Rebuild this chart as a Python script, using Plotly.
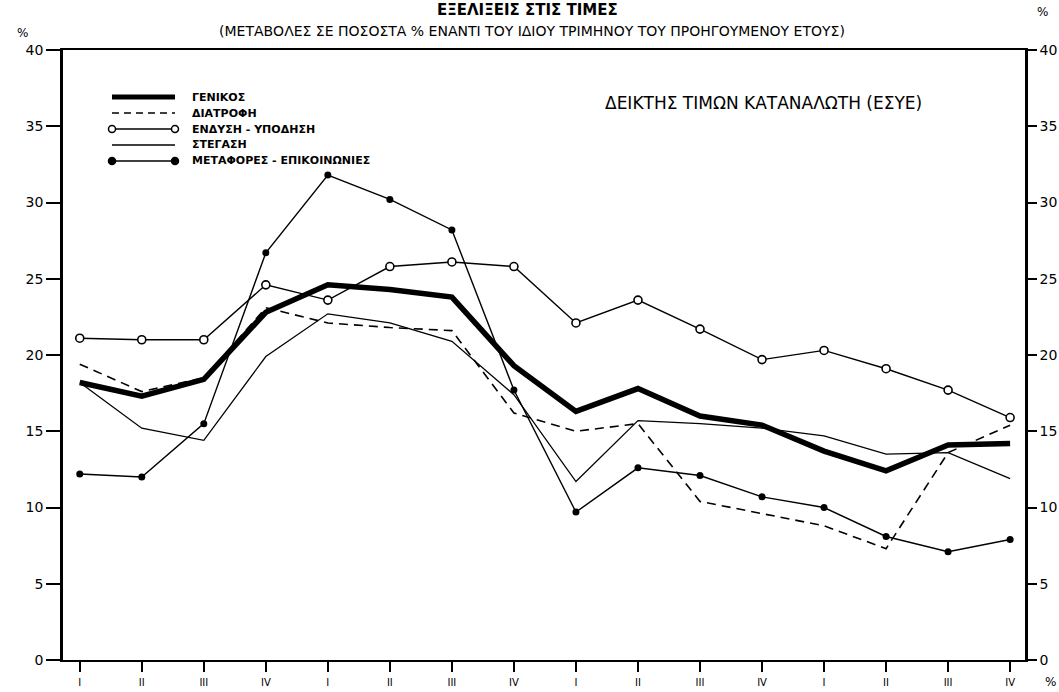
import plotly.graph_objects as go

# ---- data ----
quarter_labels = ["I", "II", "III", "IV", "I", "II", "III", "IV",
                  "I", "II", "III", "IV", "I", "II", "III", "IV"]
x_pos = list(range(len(quarter_labels)))

genikos = [18.2, 17.3, 18.4, 22.8, 24.6, 24.3, 23.8, 19.3,
           16.3, 17.8, 16.0, 15.4, 13.7, 12.4, 14.1, 14.2]
diatrofi = [19.4, 17.6, 18.5, 23.1, 22.1, 21.8, 21.6, 16.2,
            15.0, 15.5, 10.4, 9.6, 8.8, 7.3, 13.6, 15.4]
endysi = [21.1, 21.0, 21.0, 24.6, 23.6, 25.8, 26.1, 25.8,
          22.1, 23.6, 21.7, 19.7, 20.3, 19.1, 17.7, 15.9]
stegasi = [18.2, 15.2, 14.4, 19.9, 22.7, 22.1, 20.9, 17.4,
           11.7, 15.7, 15.5, 15.2, 14.7, 13.5, 13.6, 11.9]
metafores = [12.2, 12.0, 15.5, 26.7, 31.8, 30.2, 28.2, 17.7,
             9.7, 12.6, 12.1, 10.7, 10.0, 8.1, 7.1, 7.9]

series_names = ["ΓΕΝΙΚΟΣ", "ΔΙΑΤΡΟΦΗ", "ΕΝΔΥΣΗ - ΥΠΟΔΗΣΗ", "ΣΤΕΓΑΣΗ",
                "ΜΕΤΑΦΟΡΕΣ - ΕΠΙΚΟΙΝΩΝΙΕΣ"]
y_ticks = [0, 5, 10, 15, 20, 25, 30, 35, 40]

FONT = "DejaVu Sans"
W, H = 1059, 692
ML, MR, MT, MB = 63, 34, 50, 32
PW, PH = W - ML - MR, H - MT - MB


def px(xp):
    return (xp - ML) / PW


def py(yp):
    return (H - MB - yp) / PH


fig = go.Figure()
fig.add_trace(go.Scatter(x=x_pos, y=genikos, name=series_names[0], mode="lines",
                         line=dict(color="black", width=5.5)))
fig.add_trace(go.Scatter(x=x_pos, y=diatrofi, name=series_names[1], mode="lines",
                         line=dict(color="black", width=1.6, dash="9px,6px")))
fig.add_trace(go.Scatter(x=x_pos, y=endysi, name=series_names[2], mode="lines+markers",
                         line=dict(color="black", width=1.4),
                         marker=dict(symbol="circle", size=8, color="white",
                                     line=dict(color="black", width=1.6))))
fig.add_trace(go.Scatter(x=x_pos, y=stegasi, name=series_names[3], mode="lines",
                         line=dict(color="black", width=1.3)))
fig.add_trace(go.Scatter(x=x_pos, y=metafores, name=series_names[4],
                         mode="lines+markers",
                         line=dict(color="black", width=1.4),
                         marker=dict(symbol="circle", size=7, color="black")))
# invisible trace to carry the right-hand axis
fig.add_trace(go.Scatter(x=x_pos, y=genikos, yaxis="y2", mode="lines",
                         line=dict(width=0, color="rgba(0,0,0,0)"),
                         showlegend=False, hoverinfo="skip"))

fig.update_layout(
    width=W, height=H,
    margin=dict(l=ML, r=MR, t=MT, b=MB, autoexpand=False),
    paper_bgcolor="white", plot_bgcolor="white",
    font=dict(family=FONT, color="black", size=13),
    showlegend=False,
    xaxis=dict(range=[-0.27, 15.24], tickvals=x_pos, ticktext=quarter_labels,
               showgrid=False, zeroline=False, showline=True, linecolor="black",
               linewidth=2, mirror=True, ticks="outside", ticklen=10, tickwidth=1.5,
               tickcolor="black", ticklabelstandoff=2, automargin=False,
               tickfont=dict(size=10, family=FONT)),
    yaxis=dict(range=[0, 40], tickvals=y_ticks, showgrid=False, zeroline=False,
               showline=True, linecolor="black", linewidth=2.5, ticks="outside",
               ticklen=14, tickwidth=1.5, tickcolor="black", automargin=False,
               tickfont=dict(size=14, family=FONT)),
    yaxis2=dict(range=[0, 40], tickvals=y_ticks, overlaying="y", side="right",
                showgrid=False, zeroline=False, showline=True, linecolor="black",
                linewidth=2.5, ticks="outside", ticklen=9, tickwidth=1.5,
                tickcolor="black", automargin=False,
                tickfont=dict(size=14, family=FONT)),
)

# ---- hand-drawn legend (as in the reference) ----
row_y = [97, 113, 129, 145, 161]
lx0, lx1, ltext = 112, 175, 190
legend_styles = [
    dict(width=5, dash="solid"),
    dict(width=1.6, dash="7px,5px"),
    dict(width=1.4, dash="solid"),
    dict(width=1.4, dash="solid"),
    dict(width=1.4, dash="solid"),
]
for i, name in enumerate(series_names):
    yy = py(row_y[i])
    fig.add_shape(type="line", xref="paper", yref="paper",
                  x0=px(lx0), x1=px(lx1), y0=yy, y1=yy,
                  line=dict(color="black", **legend_styles[i]))
    fig.add_annotation(text="<b>" + name + "</b>", xref="paper", yref="paper",
                       x=px(ltext), y=yy, xanchor="left", yanchor="middle",
                       showarrow=False, font=dict(size=11, family=FONT))
    if i in (2, 4):
        r = 3.5
        for cx in (lx0, lx1):
            fig.add_shape(type="circle", xref="paper", yref="paper",
                          x0=px(cx - r), x1=px(cx + r),
                          y0=py(row_y[i] + r), y1=py(row_y[i] - r),
                          fillcolor="white" if i == 2 else "black",
                          line=dict(color="black", width=1.5))

fig.add_annotation(text="<b>ΕΞΕΛΙΞΕΙΣ ΣΤΙΣ ΤΙΜΕΣ</b>", xref="paper", yref="paper",
                   x=px(527), y=py(-1), xanchor="center", yanchor="top",
                   showarrow=False, font=dict(size=15, family=FONT))
fig.add_annotation(text="(ΜΕΤΑΒΟΛΕΣ ΣΕ ΠΟΣΟΣΤΑ % ΕΝΑΝΤΙ ΤΟΥ ΙΔΙΟΥ ΤΡΙΜΗΝΟΥ ΤΟΥ ΠΡΟΗΓΟΥΜΕΝΟΥ ΕΤΟΥΣ)",
                   xref="paper", yref="paper", x=px(532), y=py(31), xanchor="center",
                   yanchor="middle", showarrow=False, font=dict(size=14, family=FONT))
fig.add_annotation(text="ΔΕΙΚΤΗΣ ΤΙΜΩΝ ΚΑΤΑΝΑΛΩΤΗ (ΕΣΥΕ)", xref="paper", yref="paper",
                   x=px(763), y=py(103), xanchor="center", yanchor="middle",
                   showarrow=False, font=dict(size=17, family=FONT))
fig.add_annotation(text="%", xref="paper", yref="paper", x=px(22), y=py(33),
                   xanchor="center", yanchor="middle", showarrow=False,
                   font=dict(size=12, family=FONT))
fig.add_annotation(text="%", xref="paper", yref="paper", x=px(1042), y=py(12),
                   xanchor="center", yanchor="middle", showarrow=False,
                   font=dict(size=12, family=FONT))
fig.add_annotation(text="%", xref="paper", yref="paper", x=px(1050), y=py(682),
                   xanchor="center", yanchor="middle", showarrow=False,
                   font=dict(size=12, family=FONT))

fig.write_html("out.html", config={"displayModeBar": False},
               post_script="document.body.style.margin='0';")
